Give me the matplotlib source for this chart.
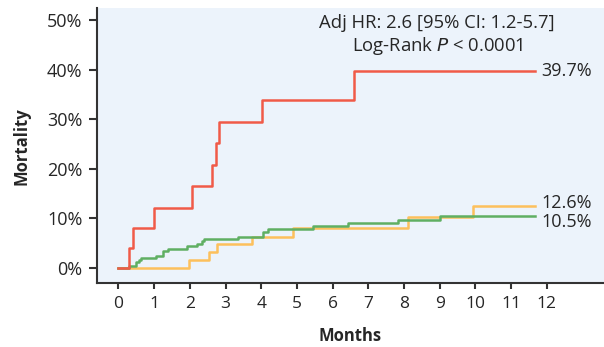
import matplotlib
matplotlib.use("Agg")
import matplotlib.pyplot as plt

plt.rcParams['font.family'] = ['Open Sans', 'DejaVu Sans']

# Kaplan-Meier style step data (months, cumulative mortality %)
red_t = [0, 0.31, 0.40, 1.00, 2.05, 2.63, 2.73, 2.83, 4.02, 6.60, 11.67]
red_y = [0, 4.0, 8.1, 12.2, 16.5, 20.8, 25.2, 29.5, 33.9, 39.7, 39.7]

orange_t = [0, 1.99, 2.54, 2.76, 3.74, 4.88, 8.12, 9.94, 11.67]
orange_y = [0, 1.6, 3.2, 4.8, 6.2, 8.1, 10.2, 12.6, 12.6]

green_t = [0, 0.31, 0.50, 0.59, 0.63, 1.06, 1.26, 1.40, 1.92, 2.20, 2.34, 2.41,
           3.36, 4.06, 4.20, 5.46, 6.44, 7.84, 9.00, 11.67]
green_y = [0, 0.4, 1.3, 1.7, 1.95, 2.4, 3.4, 3.95, 4.4, 4.95, 5.4, 5.8,
           6.3, 7.3, 7.8, 8.4, 9.0, 9.6, 10.5, 10.5]

end_labels = ["39.7%", "12.6%", "10.5%"]
x_ticks = list(range(0, 13))
y_ticks = [0, 10, 20, 30, 40, 50]
y_tick_labels = ["0%", "10%", "20%", "30%", "40%", "50%"]

RED = "#F05A48"
ORANGE = "#FDC05C"
GREEN = "#5FAF62"
BG = "#ECF3FB"
DARK = "#262626"

fig = plt.figure(figsize=(6.04, 3.47), dpi=100)
ax = fig.add_axes([97/604, 1-283/347, 1-97/604, (283-8)/347])
ax.set_facecolor(BG)

lw = 1.8
ax.step(orange_t, orange_y, where='post', color=ORANGE, lw=lw, zorder=3)
ax.step(green_t, green_y, where='post', color=GREEN, lw=lw, zorder=4)
ax.step(red_t, red_y, where='post', color=RED, lw=lw, zorder=5)

ax.set_xlim(-0.6, 13.6)
ax.set_ylim(-3.0, 52.4)
ax.set_xticks(x_ticks)
ax.set_xticklabels([str(t) for t in x_ticks], fontsize=12.5, color=DARK)
ax.set_yticks(y_ticks)
ax.set_yticklabels(y_tick_labels, fontsize=13, color=DARK)

for s in ['top', 'right']:
    ax.spines[s].set_visible(False)
for s in ['left', 'bottom']:
    ax.spines[s].set_color('#333333')
    ax.spines[s].set_linewidth(1.5)
ax.tick_params(axis='x', direction='out', width=1.5, color='#333333', length=4.5, pad=5)
ax.tick_params(axis='y', direction='out', width=1.5, color='#333333', length=6, pad=4.5)

ax.set_xlabel("Months", fontsize=12, fontweight='bold', color=DARK)
ax.set_ylabel("Mortality", fontsize=12, fontweight='bold', color=DARK)
ax.xaxis.set_label_coords(0.499, -0.16)
ax.yaxis.set_label_coords(-0.132, 0.498)

ax.text(11.85, red_y[-1], end_labels[0], fontsize=13, color=DARK, va='center', ha='left')
ax.text(11.85, orange_y[-1] + 0.5, end_labels[1], fontsize=13, color=DARK, va='center', ha='left')
ax.text(11.85, green_y[-1] - 1.2, end_labels[2], fontsize=13, color=DARK, va='center', ha='left')

ax.text(8.93, 49.4, "Adj HR: 2.6 [95% CI: 1.2-5.7]", fontsize=13.3, color=DARK,
        ha='center', va='center')
ax.text(8.93, 44.8, r"Log-Rank $\it{P}$ < 0.0001", fontsize=13.3, color=DARK,
        ha='center', va='center')

fig.savefig("out.png", dpi=100, facecolor='white')
